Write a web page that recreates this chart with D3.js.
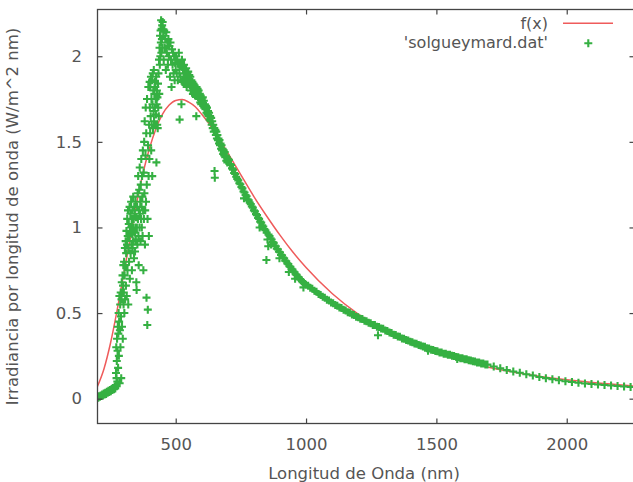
<!DOCTYPE html>
<html><head><meta charset="utf-8">
<script src="https://cdn.jsdelivr.net/npm/d3@7"></script>
<style>body{margin:0;background:#fff}svg{display:block}text{font-family:"DejaVu Sans",sans-serif}</style>
</head><body><svg id="c" width="633" height="482"></svg>
<script>
// ---- data ----
const xTicks=[500,1000,1500,2000];
const yTicks=[0,0.5,1,1.5,2];
const xTitle="Longitud de Onda (nm)";
const yTitle="Irradiancia por longitud de onda (W/m^2 nm)";
const seriesNames=["f(x)","'solgueymard.dat'"];

// fitted curve f(x)
const fitWavelength=[200,225,250,275,300,325,350,375,400,425,450,475,500,525,550,575,600,650,700,750,800,850,900,950,1000,1100,1200,1300,1400,1500,1600,1700,1800,1900,2000,2100,2200,2260];
const fitIrradiance=[0.072,0.175,0.325,0.514,0.725,0.93,1.14,1.32,1.466,1.58,1.663,1.715,1.742,1.747,1.732,1.705,1.661,1.559,1.435,1.307,1.18,1.064,0.955,0.855,0.766,0.614,0.494,0.400,0.326,0.267,0.221,0.184,0.154,0.130,0.110,0.094,0.081,0.074];

// solgueymard.dat  [wavelength nm, irradiance]
const uvData=[[200,.010],[203,.006],[206,.014],[209,.011],[212,.019],[215,.015],[218,.024],[221,.019],[224,.03],[227,.025],[230,.034],[233,.028],[236,.04],[239,.035],[242,.046],[245,.039],[248,.05],[251,.044],[254,.056],[257,.05],[260,.062],[263,.055],[266,.07],[268,.06],[270,.08],[271,.15],[272,.3],[273,.12],[274,.22],[275,.35],[276,.1],[277,.28],[278,.42],[279,.18],[280,.38],[281,.5],[282,.25],[283,.45],[284,.6],[285,.09],[286,.4],[287,.55],[288,.3],[289,.62],[290,.48],[291,.12],[292,.58],[293,.68],[294,.42],[295,.62],[296,.72],[297,.35],[298,.66],[299,.78],[300,.55]];
const blueData=[[301,.62],[302,.8],[303,.5],[304,.72],[305,.88],[306,.58],[307,.78],[308,.92],[309,.66],[310,.85],[311,.98],[312,.6],[313,.9],[314,1.05],[315,.75],[316,.95],[317,1.1],[318,.55],[319,.88],[320,1.02],[321,.8],[322,.95],[323,1.12],[324,.7],[325,.98],[326,1.08],[327,.85],[328,1.0],[329,1.15],[330,.9],[331,1.05],[332,.75],[333,.96],[334,1.1],[335,.88],[336,1.0],[337,1.18],[338,.92],[339,1.05],[340,.82],[341,1.12],[342,.97],[343,1.08],[344,.86],[345,1.0],[346,1.15],[347,.93],[348,1.06],[349,.68],[350,.635],
[351,1.0],[352,1.12],[353,.9],[354,1.2],[355,1.05],[356,1.3],[357,.95],[358,.78],[359,1.1],[360,1.22],[361,1.0],[362,1.35],[363,1.08],[364,1.15],[365,.92],[366,1.25],[367,1.05],[368,1.4],[369,1.12],[370,1.0],[371,1.3],[372,1.18],[373,.95],[374,1.45],[375,1.1],[376,.75],[377,1.32],[378,1.05],[379,1.5],[380,1.2],[381,1.62],[382,.9],[383,1.1],[384,1.42],[385,1.7],[386,1.15],[387,1.55],[388,.59],[389,1.25],[390,1.75],[391,.43],[392,1.05],[393,.52],[394,1.48],[395,1.82],[396,1.3],[397,.95],[398,1.6],[399,1.4],[400,1.85],
[401,1.7],[402,1.55],[403,1.82],[404,1.65],[405,1.88],[406,1.45],[407,1.75],[408,1.6],[409,1.86],[410,1.3],[411,1.72],[412,1.9],[413,1.58],[414,1.8],[415,1.68],[416,1.92],[417,1.62],[418,1.78],[419,1.85],[420,1.7],[421,1.6],[422,1.82],[423,1.75],[424,1.66],[425,1.88],[426,1.38],[427,1.72],[428,1.8],[429,1.6],[430,1.76],[431,1.58],[432,1.84],[433,1.7],[434,1.9],[435,1.65],[436,1.98],[437,1.78],[438,2.05],[439,1.95],[440,2.12],[441,2.0],[442,2.15],[443,2.08],[444,2.21],[445,2.02],[446,2.16],[447,2.1],[448,2.18],[449,2.05],[450,2.2]];
const visibleData=[[452,2.12],[454,1.98],[456,2.15],[458,2.05],[460,2.1],[462,1.92],[464,2.14],[466,2.02],[468,2.08],[470,1.95],[472,2.1],[474,2.0],[476,2.06],[478,1.88],[480,2.08],[482,1.98],[484,1.82],[486,2.04],[488,1.95],[490,2.02],[492,1.9],[494,2.0],[496,1.86],[498,1.96],[500,1.92],
[502,2.0],[504,1.9],[506,1.98],[508,1.86],[510,1.95],[512,2.02],[514,1.9],[515,1.63],[516,1.96],[518,1.88],[520,1.94],[522,1.72],[524,1.98],[526,1.85],[528,1.93],[530,1.88],[532,1.95],[534,1.84],[536,1.92],[538,1.87],[540,1.93],[542,1.82],[544,1.9],[546,1.86],[548,1.91],[550,1.84],[552,1.89],[554,1.83],[556,1.88],[558,1.8],[560,1.86],[562,1.82],[564,1.85],[566,1.78],[568,1.84],[570,1.8],[572,1.83],[574,1.77],[576,1.82],[578,1.79],[579,1.65],[580,1.82],[582,1.78],[584,1.81],[586,1.76],[588,1.8],[590,1.75],[592,1.78],[594,1.73],[596,1.77],[598,1.72],[600,1.75],
[602,1.73],[604,1.76],[606,1.71],[608,1.74],[610,1.7],[612,1.72],[614,1.69],[616,1.71],[618,1.67],[620,1.7],[622,1.66],[624,1.68],[626,1.65],[628,1.67],[630,1.63],[632,1.65],[634,1.62],[636,1.64],[638,1.6],[640,1.62],[642,1.58],[644,1.6],[646,1.56],[648,1.58],[649,1.33],[650,1.29],[652,1.57],[654,1.54],[656,1.56],[658,1.52],[660,1.54],[662,1.51],[664,1.52],[666,1.49],[668,1.51],[670,1.48],[672,1.49],[674,1.46],[676,1.48],[678,1.45],[680,1.46],[682,1.43],[684,1.45],[686,1.42],[688,1.44],[690,1.41],[692,1.42],[694,1.39],[696,1.41],[698,1.38],[700,1.4]];
const nirData=[[704,1.395],[708,1.37],[712,1.365],[716,1.345],[720,1.338],[724,1.318],[728,1.312],[732,1.296],[736,1.284],[740,1.275],[744,1.258],[748,1.252],[752,1.236],[756,1.228],[760,1.21],[762,1.17],[764,1.204],[768,1.19],[772,1.182],[776,1.165],[780,1.158],[784,1.145],[788,1.136],[792,1.122],[796,1.116],[800,1.1],[804,1.094],[808,1.078],[812,1.072],[816,1.056],[820,1.05],[822,1.0],[824,1.034],[828,1.028],[832,1.012],[836,1.006],[840,0.99],[844,0.984],[848,0.81],[849,0.97],[852,0.93],[855,0.89],[856,0.958],[860,0.95],[864,0.936],[866,0.9],[868,0.93],[872,0.915],[876,0.91],[880,0.895],[884,0.89],[888,0.876],[892,0.872],[896,0.858],[898,0.82],[900,0.855],[904,0.84],[908,0.838],[912,0.824],[916,0.82],[920,0.806],[924,0.803],[928,0.79],[932,0.786],[934,0.74],[936,0.773],[940,0.77],[944,0.758],[948,0.754],[952,0.742],[956,0.738],[958,0.7],[960,0.727],[964,0.723],[968,0.712],[972,0.709],[976,0.698],[980,0.695],[984,0.686],[988,0.682],[990,0.65],[992,0.674],[996,0.67],[1000,0.666]];
const swirData=[[1008,.66],[1016,.648],[1024,.642],[1032,.63],[1040,.624],[1048,.612],[1056,.606],[1064,.595],[1072,.59],[1080,.578],[1088,.573],[1096,.562],[1104,.558],[1112,.547],[1120,.543],[1128,.533],[1136,.53],[1144,.519],[1152,.515],[1160,.505],[1168,.502],[1176,.492],[1184,.488],[1192,.479],[1200,.476],[1208,.467],[1216,.465],[1224,.455],[1232,.452],[1240,.443],[1248,.441],[1256,.431],[1264,.43],[1272,.42],[1276,.37],[1280,.418],[1288,.41],[1296,.408],[1304,.398],[1312,.395],[1320,.386],[1328,.383],[1336,.374],[1344,.372],[1352,.363],[1360,.361],[1368,.352],[1376,.35],[1384,.342],[1392,.34],[1400,.332],[1408,.33],[1416,.322],[1424,.321],[1432,.313],[1440,.311],[1448,.304],[1456,.303],[1464,.295],[1468,.28],[1472,.293],[1480,.286],[1488,.285],[1496,.278],[1504,.277],[1512,.27],[1520,.27],[1528,.263],[1536,.262],[1544,.256],[1552,.256],[1560,.25],[1568,.249],[1576,.243],[1580,.232],[1584,.242],[1592,.236],[1600,.236],[1608,.23],[1616,.23],[1624,.224],[1632,.223],[1640,.218],[1648,.217],[1656,.211],[1664,.211],[1672,.205],[1680,.205],[1688,.199],[1696,.199]];
const tailData=[[1720,.188],[1745,.177],[1770,.167],[1795,.159],[1820,.151],[1845,.143],[1870,.135],[1895,.127],[1920,.12],[1945,.114],[1970,.108],[1995,.102],[2020,.097],[2045,.093],[2070,.089],[2095,.086],[2120,.083],[2145,.08],[2170,.077],[2195,.074],[2220,.071],[2245,.068]];

// ---- drawing ----
const L=97.5,R=634.5,T=9.5,B=423.5;
const FS=16.5, TXT="#555", AX="#444", RED="#ef5b5b", GREEN="#35b042";
const x=d3.scaleLinear().domain([200,2260]).range([L,R]);
const y=d3.scaleLinear().domain([-0.145,2.273]).range([B,T]);
const svg=d3.select("#c");
svg.append("rect").attr("width",633).attr("height",482).attr("fill","#fff");
svg.append("clipPath").attr("id","clip").append("rect").attr("x",L).attr("y",T).attr("width",R-L).attr("height",B-T);
const plot=svg.append("g").attr("clip-path","url(#clip)");

const fitPts=fitWavelength.map((w,i)=>[w,fitIrradiance[i]]);
plot.append("path").datum(fitPts)
  .attr("d",d3.line().x(d=>x(d[0])).y(d=>y(d[1])).curve(d3.curveMonotoneX))
  .attr("fill","none").attr("stroke",RED).attr("stroke-width",1.5);

const allData=[].concat(uvData,blueData,visibleData,nirData,swirData,tailData);
const h=4;
const plus=(cx,cy)=>`M${cx-h},${cy}h${2*h}M${cx},${cy-h}v${2*h}`;
plot.append("path").attr("d",allData.map(d=>plus(x(d[0]),y(d[1]))).join(""))
  .attr("fill","none").attr("stroke",GREEN).attr("stroke-width",2.1);

function styleAxis(g){
  g.select(".domain").remove();
  g.selectAll(".tick line").attr("stroke",AX).attr("stroke-width",1.2);
  g.selectAll(".tick text").attr("fill",TXT).attr("font-size",FS).attr("font-family","DejaVu Sans");
}
svg.append("g").attr("transform",`translate(0,${B})`)
  .call(d3.axisBottom(x).tickValues(xTicks).tickSize(-5).tickPadding(15).tickFormat(d3.format("d"))).call(styleAxis);
svg.append("g").attr("transform",`translate(0,${T})`)
  .call(d3.axisTop(x).tickValues(xTicks).tickSize(-5).tickFormat("")).call(styleAxis);
svg.append("g").attr("transform",`translate(${L},0)`)
  .call(d3.axisLeft(y).tickValues(yTicks).tickSize(-5).tickPadding(15.5).tickFormat(d=>String(d))).call(styleAxis);
svg.append("g").attr("transform",`translate(${R},0)`)
  .call(d3.axisRight(y).tickValues(yTicks).tickSize(-5).tickFormat("")).call(styleAxis);

svg.append("rect").attr("x",L).attr("y",T).attr("width",R-L).attr("height",B-T)
  .attr("fill","none").attr("stroke",AX).attr("stroke-width",1.3);

svg.append("text").attr("x",(L+R)/2-2).attr("y",478.5).attr("text-anchor","middle")
  .attr("font-size",FS).attr("fill",TXT).text(xTitle);
svg.append("text").attr("transform",`translate(18,${(T+B)/2}) rotate(-90)`).attr("text-anchor","middle")
  .attr("font-size",FS).attr("fill",TXT).text(yTitle);

// legend
const lg=svg.append("g");
lg.append("text").attr("x",548).attr("y",28.5).attr("text-anchor","end").attr("font-size",16).attr("fill",TXT).text(seriesNames[0]);
lg.append("line").attr("x1",563).attr("x2",613).attr("y1",23.3).attr("y2",23.3).attr("stroke",RED).attr("stroke-width",1.5);
lg.append("text").attr("x",548).attr("y",48).attr("text-anchor","end").attr("font-size",16).attr("fill",TXT).text(seriesNames[1]);
lg.append("path").attr("d",plus(588.3,43.3)).attr("stroke",GREEN).attr("stroke-width",2.1).attr("fill","none");
</script></body></html>
